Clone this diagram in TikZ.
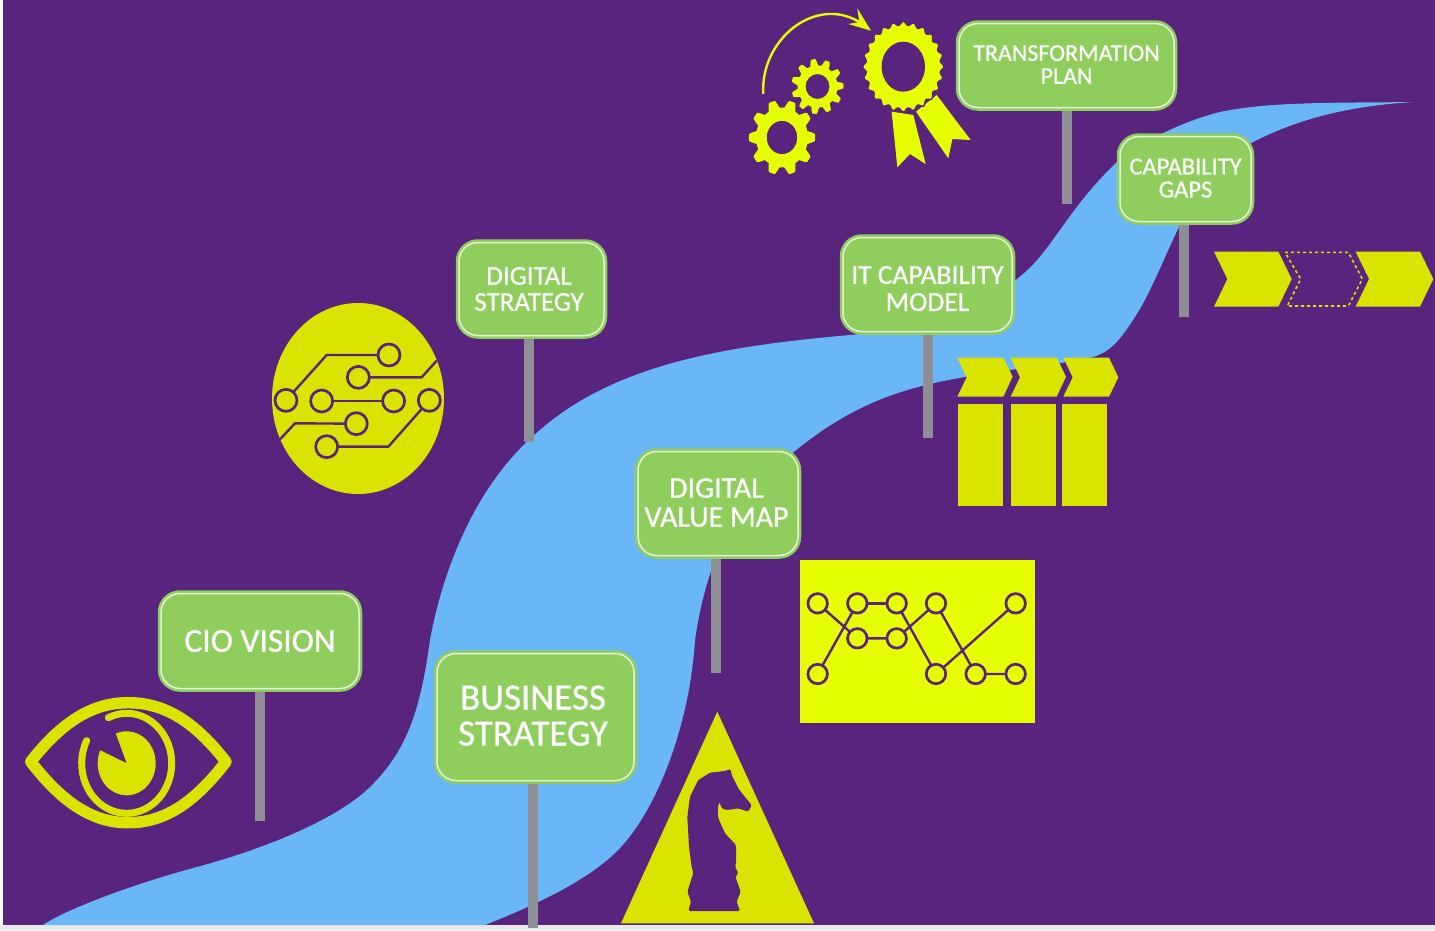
\documentclass[tikz,border=0pt]{standalone}
\usepackage{fontspec}
\setmainfont{Carlito}
\newfontfamily\signfont[FakeBold=0.8]{Carlito}
\definecolor{bgp}{HTML}{58247E}
\definecolor{riv}{HTML}{6AB7F8}
\definecolor{grn}{HTML}{8FCE5C}
\definecolor{yb}{HTML}{D9E500}
\definecolor{yc}{HTML}{E6FF00}
\definecolor{pol}{HTML}{8E8E96}
\definecolor{rim}{HTML}{E4F3D6}
\newcommand{\lowrule}[1]{\rule[-#1]{0pt}{1pt}}
\tikzset{
 sign/.style 2 args={rectangle,rounded corners=19pt,fill=grn,draw=grn,double=rim,double distance=1.5pt,line width=2.5pt,outer sep=3.25pt,inner sep=0pt,text=white,align=center,font=\signfont\fontsize{#1}{#2}\selectfont},
 pole/.style={draw=pol,line width=9.5pt},
 ring/.style={circle,draw=bgp,line width=2.7pt,minimum size=#1,inner sep=0pt,outer sep=0pt},
 wire/.style={draw=bgp,line width=2.4pt,line join=round},
}
\begin{document}
\begin{tikzpicture}[x=1pt,y=-1pt]
\useasboundingbox (0,0) rectangle (1435,930);
\fill[white] (0,0) rectangle (1435,930);
\fill[black!9] (0,925) rectangle (1435,930);
\fill[bgp] (3,0) rectangle (1435,925);
% river
\fill[riv] (43,925) .. controls (65,910) and (130,885) .. (197,867)
 .. controls (260,850) and (340,820) .. (375,782)
 .. controls (405,750) and (420,715) .. (430,640)
 .. controls (445,560) and (480,480) .. (540,430)
 .. controls (620,360) and (740,345) .. (850,335)
 .. controls (950,326) and (1010,295) .. (1043,253)
 .. controls (1060,232) and (1080,197) .. (1117,162)
 .. controls (1140,143) and (1180,122) .. (1220,112)
 .. controls (1270,101) and (1350,103) .. (1413,102)
 .. controls (1350,106) and (1300,118) .. (1253,142)
 .. controls (1215,165) and (1195,195) .. (1180,225)
 .. controls (1165,255) and (1150,295) .. (1133,320)
 .. controls (1120,340) and (1110,352) .. (1093,357)
 .. controls (1060,365) and (1000,370) .. (965,377)
 .. controls (900,388) and (850,405) .. (790,455)
 .. controls (730,505) and (705,570) .. (695,640)
 .. controls (690,720) and (660,805) .. (620,848)
 .. controls (590,880) and (535,905) .. (485,925) -- cycle;
% signs
\node[sign={33.5}{34},minimum width=198pt,minimum height=95pt] (cio) at (260,641) {CIO VISION};
\node[sign={37}{36},minimum width=197pt,minimum height=127pt] (bus) at (535.5,717) {BUSINESS\hspace*{5pt}\\STRATEGY\hspace*{5pt}\lowrule{3pt}};
\node[sign={30}{29},minimum width=160pt,minimum height=104pt] (val) at (718,503.5) {DIGITAL\hspace*{3pt}\\VALUE MAP\hspace*{3pt}\lowrule{2pt}};
\node[sign={27}{26},minimum width=145pt,minimum height=93pt] (dig) at (531.5,289) {DIGITAL\hspace*{5pt}\\STRATEGY\hspace*{5pt}};
\node[sign={27.5}{27},minimum width=169pt,minimum height=94pt] (itc) at (927.5,284.5) {\rule{0pt}{26pt}IT CAPABILITY\\MODEL};
\node[sign={24}{23},minimum width=215pt,minimum height=84pt] (tra) at (1066.5,65.5) {TRANSFORMATION\\PLAN\lowrule{2pt}};
\node[sign={24.5}{23},minimum width=131pt,minimum height=85pt] (cap) at (1185.5,179) {CAPABILITY\\GAPS\lowrule{2pt}};
% poles
\coordinate (ciob) at (260,821);
\coordinate (busb) at (533,928);
\coordinate (valb) at (716,673);
\coordinate (digb) at (529,442);
\coordinate (itcb) at (928,438);
\coordinate (trab) at (1067,204);
\coordinate (capb) at (1184,317);
\draw[pole] (ciob |- cio.south) -- (ciob);
\draw[pole] (busb |- bus.south) -- (busb);
\draw[pole] (valb |- val.south) -- (valb);
\draw[pole] (digb |- dig.south) -- (digb);
\draw[pole] (itcb |- itc.south) -- (itcb);
\draw[pole] (trab |- tra.south) -- (trab);
\draw[pole] (capb |- cap.south) -- (capb);
% eye
\draw[yb,line width=11.5pt,line join=round] (30.7,761.7) .. controls (62,722) and (92,702.7) .. (128.3,702.7)
 .. controls (165,702.7) and (195,722) .. (226,761.7)
 .. controls (195,802) and (165,822.7) .. (128.3,822.7)
 .. controls (92,822.7) and (62,802) .. cycle;
\begin{scope}[shift={(126.7,763.3)}]
\draw[yb,line width=7pt,line cap=round] (-114:45 and 50) arc[start angle=-114,end angle=207,x radius=45,y radius=50];
\fill[yb] (0,0) -- (-112:29 and 32) arc[start angle=-112,end angle=204,x radius=29,y radius=32] -- cycle;
\end{scope}
% circuit badge
\fill[yb] (358,398.5) ellipse[x radius=86,y radius=95.5];
\begin{scope}[shift={(260,295)},scale=1/3]
\node[ring=22pt] (c1) at (78,316) {};
\node[ring=22pt] (c2) at (185,318) {};
\node[ring=22pt] (c3) at (295,247) {};
\node[ring=22pt] (c4) at (387,180) {};
\node[ring=22pt] (c5) at (401,318) {};
\node[ring=22pt] (c6) at (508,316) {};
\node[ring=22pt] (c7) at (289,386) {};
\node[ring=22pt] (c8) at (200,455) {};
\coordinate (w1) at (200,180);
\coordinate (w2) at (485,247);
\coordinate (w3) at (530,197);
\coordinate (w4) at (385,455);
\coordinate (w5) at (105,385);
\coordinate (w6) at (60,433);
\draw[wire] (c1) -- (w1) -- (c4);
\draw[wire] (c3) -- (w2) -- (w3);
\draw[wire] (c2) -- (c5);
\draw[wire] (c6) -- (w4) -- (c8);
\draw[wire] (c7) -- (w5) -- (w6);
\end{scope}
% gears and rosette
\fill[yc,even odd rule,shift={(782,137.5)}] plot[samples=361,domain=0:360] ({cos(\x)*(29.5+3.6*min(1,max(-1,1.7*cos(10*\x))))},{sin(\x)*(33.7+3.8*min(1,max(-1,1.7*cos(10*\x))))}) -- cycle (0,0) ellipse[x radius=15.3,y radius=16.7];
\fill[yc,even odd rule,shift={(817.5,86.5)}] plot[samples=361,domain=0:360] ({cos(\x)*(23+3*min(1,max(-1,1.7*cos(11*\x+15))))},{sin(\x)*(24.3+3.2*min(1,max(-1,1.7*cos(11*\x+15))))}) -- cycle (0,0) ellipse[x radius=12,y radius=12.5];
\draw[yc,line width=2.4pt] (763.3,94) .. controls (760,40) and (815,-5) .. (859.3,22);
\fill[yc] (871,30.7) -- (857.3,8.3) -- (859.3,22) -- (848.3,24) -- cycle;
\begin{scope}[shift={(740,0)},scale=1/3]
\fill[yc] (455,335) -- (520,345) -- (557,492) -- (510,462) -- (472,502) -- cycle;
\fill[yc] (528,335) -- (590,285) -- (692,420) -- (637,417) -- (625,475) -- cycle;
\end{scope}
\filldraw[fill=yc,draw=bgp,line width=1.5pt,shift={(903.3,66.7)}] plot[samples=361,domain=0:360] ({cos(\x)*(39+1.6*cos(24*\x))},{sin(\x)*(43.5+1.8*cos(24*\x))}) -- cycle;
\fill[bgp] (903.3,66.7) ellipse[x radius=21.7,y radius=25];
% triangle with knight
\fill[yb] (717.3,711.7) -- (814,923.3) -- (621,923.3) -- cycle;
\begin{scope}[shift={(610,700)},scale=1/3]
\fill[bgp,rounded corners=1.5pt] (235,633) -- (243,605) -- (232,575) -- (250,520) -- (245,500) -- (237,440) -- (232,350) -- (240,290) -- (265,240) -- (300,218) -- (345,213) -- (362,207) -- (365,225) -- (385,265) -- (400,285) -- (425,315) -- (415,335) -- (385,325) -- (350,330) -- (335,325) -- (328,305) -- (323,325) -- (325,355) -- (345,400) -- (378,435) -- (378,490) -- (375,500) -- (385,520) -- (376,530) -- (392,575) -- (380,605) -- (390,633) -- cycle;
\end{scope}
% network panel
\fill[yc] (800,560) rectangle (1035,723);
\begin{scope}[shift={(790,550)},scale=1/3]
\node[ring=19.5pt] (n1) at (83,160) {};
\node[ring=19.5pt] (n2) at (202,160) {};
\node[ring=19.5pt] (n3) at (320,160) {};
\node[ring=19.5pt] (n4) at (438,160) {};
\node[ring=19.5pt] (n5) at (677,160) {};
\node[ring=19.5pt] (n6) at (202,265) {};
\node[ring=19.5pt] (n7) at (320,265) {};
\node[ring=19.5pt] (n8) at (83,372) {};
\node[ring=19.5pt] (n9) at (438,372) {};
\node[ring=19.5pt] (n10) at (557,372) {};
\node[ring=19.5pt] (n11) at (677,372) {};
\draw[wire] (n1) -- (n6);
\draw[wire] (n8) -- (n2);
\draw[wire] (n2) -- (n3);
\draw[wire] (n6) -- (n7);
\draw[wire] (n3) -- (n9);
\draw[wire] (n7) -- (n4);
\draw[wire] (n4) -- (n10);
\draw[wire] (n9) -- (n5);
\draw[wire] (n10) -- (n11);
\end{scope}
% chevrons and columns
\begin{scope}[shift={(940,345)},scale=1/3]
\fill[yb] (52,38) -- (190,38) -- (218,95) -- (190,155) -- (52,155) -- (80,97) -- cycle;
\fill[yb] (212,38) -- (350,38) -- (378,95) -- (350,155) -- (212,155) -- (240,97) -- cycle;
\fill[yb] (370,38) -- (507,38) -- (535,97) -- (507,155) -- (370,155) -- (398,97) -- cycle;
\fill[yb] (55,178) rectangle (190,482);
\fill[yb] (212,178) rectangle (347,482);
\fill[yb] (366,178) rectangle (500,482);
\end{scope}
\begin{scope}[shift={(1200,240)},scale=1/3]
\fill[yb] (42,35) -- (235,35) -- (275,117) -- (235,200) -- (42,200) -- (82,117) -- cycle;
\draw[yb,line width=1.6pt,dash pattern=on 3pt off 3pt] (255,37) -- (445,37) -- (487,117) -- (445,198) -- (262,198) -- (302,117) -- cycle;
\fill[yb] (467,35) -- (660,35) -- (700,117) -- (660,200) -- (467,200) -- (507,117) -- cycle;
\end{scope}
\end{tikzpicture}
\end{document}
